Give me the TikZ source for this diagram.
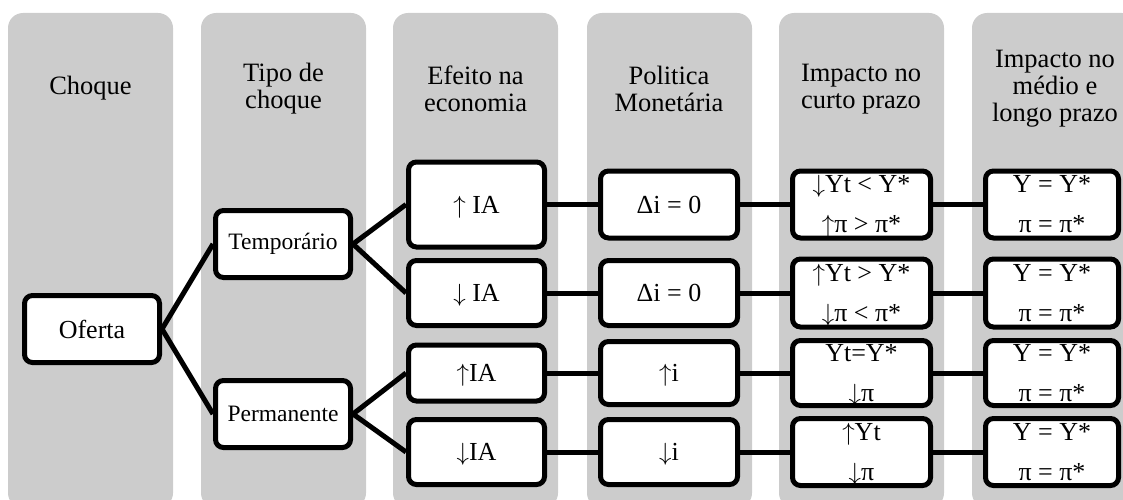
\documentclass[tikz,border=0pt]{standalone}
\usepackage{fontspec}
\setmainfont{Liberation Serif}
\definecolor{bandgray}{HTML}{CCCCCC}
\pgfdeclarelayer{bg}
\pgfsetlayers{bg,main}
% tall thin arrows that do not change the line box
\newcommand{\up}{\smash{$\uparrow$}}
\newcommand{\dn}{\smash{$\downarrow$}}
\begin{document}
\begin{tikzpicture}[x=1pt,y=-1pt,
  band/.style={fill=bandgray, rounded corners=15pt},
  hdr/.style={align=center, inner sep=0pt, font=\fontsize{26.5}{27}\selectfont},
  box/.style={draw, line width=5pt, rounded corners=8pt, fill=white,
    inner sep=0pt, align=center, font=\fontsize{26}{40}\selectfont},
  kind/.style={box, minimum width=135pt, minimum height=67pt,
    font=\fontsize{23.5}{28}\selectfont},
  wire/.style={line width=5pt}]
\useasboundingbox (0,0) rectangle (1123,500);
\clip (0,0) rectangle (1123,500);

% grey column bands
\begin{pgfonlayer}{bg}
  \foreach \xa in {8,201,393,587,779,972}
    \fill[band] (\xa,13) rectangle ++(165,495);
\end{pgfonlayer}

% column headings
\node[hdr] (h1) at (90.5,88) {Choque};
\node[hdr] (h2) at (283.5,89) {Tipo de\\choque};
\node[hdr] (h3) at (475.5,89) {Efeito na\\economia};
\node[hdr] (h4) at (669,89) {Politica\\Monetária};
\node[hdr] (h5) at (861,89) {Impacto no\\curto prazo};
\node[hdr] (h6) at (1055,89) {Impacto no\\médio e\\longo prazo};

% shock and its two kinds
\node[box, minimum width=135pt, minimum height=67pt] (oferta) at (92,329) {Oferta};
\node[kind] (temp) at (283,244) {Temporário};
\node[kind] (perm) at (283,414) {Permanente};

% effect on the economy
\node[box, minimum width=136pt, minimum height=85pt] (e1) at (476.5,204.5) {\up{} IA};
\node[box, minimum width=136pt, minimum height=65pt] (e2) at (476.5,293) {\dn{} IA};
\node[box, minimum width=136pt, minimum height=56pt] (e3) at (476.5,373) {\up IA};
\node[box, minimum width=136pt, minimum height=65pt] (e4) at (476.5,452) {\dn IA};

% monetary policy
\node[box, minimum width=137pt, minimum height=67pt] (p1) at (669,204.5) {Δi = 0};
\node[box, minimum width=137pt, minimum height=65pt] (p2) at (669,293) {Δi = 0};
\node[box, minimum width=137pt, minimum height=63pt] (p3) at (669,373) {\up i};
\node[box, minimum width=137pt, minimum height=65pt] (p4) at (669,452) {\dn i};

% short-run impact
\node[box, minimum width=138pt, minimum height=67pt] (c1) at (861.5,204.5) {\dn Yt < Y*\\\up π > π*};
\node[box, minimum width=138pt, minimum height=68pt] (c2) at (861.5,293) {\up Yt > Y*\\\dn π < π*};
\node[box, minimum width=138pt, minimum height=65pt] (c3) at (861.5,373) {Yt=Y*\\\dn π};
\node[box, minimum width=138pt, minimum height=67pt] (c4) at (861.5,452) {\up Yt\\\dn π};

% medium and long-run impact
\node[box, minimum width=133pt, minimum height=67pt] (l1) at (1052,204.5) {Y = Y*\\π = π*};
\node[box, minimum width=133pt, minimum height=68pt] (l2) at (1052,293) {Y = Y*\\π = π*};
\node[box, minimum width=133pt, minimum height=65pt] (l3) at (1052,373) {Y = Y*\\π = π*};
\node[box, minimum width=133pt, minimum height=67pt] (l4) at (1052,452) {Y = Y*\\π = π*};

% connectors, kept behind the boxes
\begin{pgfonlayer}{bg}
  \draw[wire] (oferta.east) -- (temp.west);
  \draw[wire] (oferta.east) -- (perm.west);
  \draw[wire] (temp.east) -- (e1.west);
  \draw[wire] (temp.east) -- (e2.west);
  \draw[wire] (perm.east) -- (e3.west);
  \draw[wire] (perm.east) -- (e4.west);
  \foreach \r in {1,2,3,4}{
    \draw[wire] (e\r.east) -- (p\r.west);
    \draw[wire] (p\r.east) -- (c\r.west);
    \draw[wire] (c\r.east) -- (l\r.west);
  }
\end{pgfonlayer}
\end{tikzpicture}
\end{document}
